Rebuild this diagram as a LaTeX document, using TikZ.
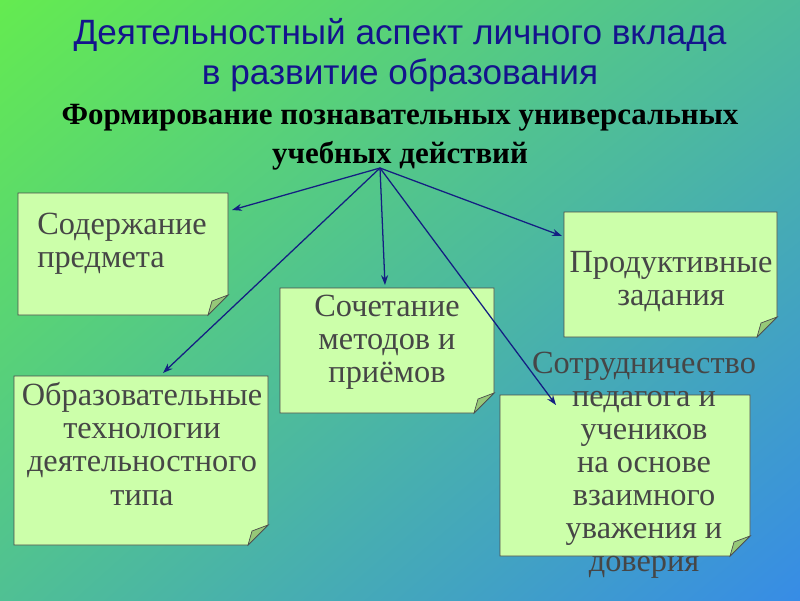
\documentclass[tikz,border=0pt]{standalone}
\usepackage{fontspec}
\setmainfont{Liberation Serif}
\setsansfont{Liberation Sans}
\usetikzlibrary{arrows.meta,shadings}
\definecolor{bggreen}{RGB}{100,235,80}
\definecolor{bgblue}{RGB}{55,140,230}
\definecolor{boxfill}{RGB}{204,255,170}
\definecolor{foldfill}{RGB}{150,200,120}
\definecolor{titleblue}{RGB}{20,20,140}
\definecolor{boxtext}{RGB}{70,70,70}
\definecolor{arrowblue}{RGB}{20,30,130}
\newcommand{\notebox}[5]{%
  \draw[notebox] (#1,#2) -- (#3,#2) -- (#3,#4-20) -- (#3-20,#4) -- (#1,#4) -- cycle;
  \draw[notebox,fill=foldfill] (#3,#4-20) -- (#3-16,#4-14) -- (#3-20,#4) -- cycle;
  \coordinate (#5) at ({(#1+#3)/2},{(#2+#4)/2});}
\begin{document}
\begin{tikzpicture}[x=0.025cm,y=-0.025cm,
  notebox/.style={draw=black!70,fill=boxfill,line width=0.5pt},
  boxlabel/.style={align=center,font=\fontsize{23}{23.5}\selectfont,text=boxtext},
  link/.style={draw=arrowblue,line width=0.9pt,-{Stealth[length=7pt,width=5pt]}}]
\useasboundingbox (0,0) rectangle (800,600);
\shade[upper left=bggreen,upper right=bggreen!50!bgblue,lower left=bggreen!55!bgblue,lower right=bgblue] (0,0) rectangle (800,600);

\node[font=\sffamily\fontsize{25}{28}\selectfont,text=titleblue,align=center] (title) at (400,55)
  {Деятельностный аспект личного вклада\\в развитие образования};
\node[font=\bfseries\fontsize{22}{28}\selectfont,align=center] (sub) at (400,137)
  {Формирование познавательных универсальных\\учебных действий};

\notebox{18}{193}{228}{315}{b1}
\notebox{280}{288}{494}{413}{b2}
\notebox{564}{212}{777}{337}{b3}
\notebox{14}{376}{268}{545}{b4}
\notebox{500}{395}{750}{556}{b5}

\node[boxlabel,align=left] (content) at (122,244) {Содержание\\предмета};
\node[boxlabel] (methods) at (387,342) {Сочетание\\методов и\\приёмов};
\node[boxlabel] (tasks) at (671,282) {Продуктивные\\задания};
\node[boxlabel] (tech) at (142,444) {Образовательные\\технологии\\деятельностного\\типа};
\node[boxlabel] (coop) at (644,465) {Сотрудничество\\педагога и\\учеников\\на основе\\взаимного\\уважения и\\доверия};

\coordinate (hub) at (380,168);
\coordinate (e1) at (232,210);
\coordinate (e2) at (385,285);
\coordinate (e3) at (562,236);
\coordinate (e4) at (163,373);
\coordinate (e5) at (556,405);
\foreach \e in {e1,e2,e3,e4,e5}
  \draw[link] (hub) -- (\e);
\end{tikzpicture}
\end{document}
